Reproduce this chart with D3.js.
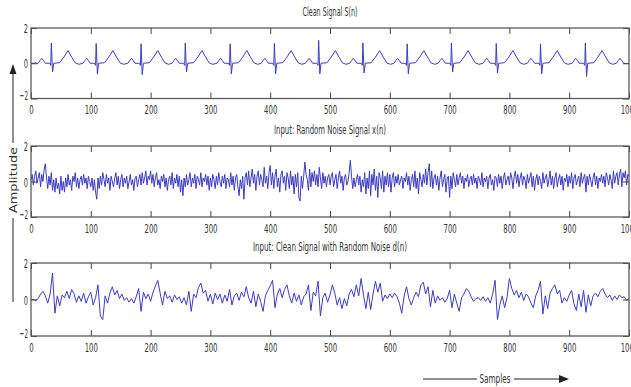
<!DOCTYPE html>
<html>
<head>
<meta charset="utf-8">
<script src="https://cdn.jsdelivr.net/npm/d3@7"></script>
<style>
  body { margin: 0; background: #fff; }
  svg { display: block; }
  text { font-family: "Liberation Sans Narrow", "Arial Narrow", "DejaVu Sans Condensed", sans-serif; fill: #333; }
</style>
</head>
<body>
<svg id="chart" width="631" height="387"></svg>
<script>
// ---- data -------------------------------------------------------------
const sampleTicks = [0, 100, 200, 300, 400, 500, 600, 700, 800, 900, 1000];
const ampTicks = [-2, 0, 2];

const panelTitles = [
  "Clean  Signal S(n)",
  "Input: Random Noise Signal x(n)",
  "Input: Clean  Signal with Random Noise d(n)"
];

// Clean ECG-like signal S(n): [sample, amplitude] knots (P, QRS and T of each beat)
const cleanKnots = [
  [0,0],[5,0],[8,0.04],[10,-0.02],
  [12,0],[15,0.15],[18,0.28],[21,0.15],[24,0],[31,0],[33,-0.12],[34,1.15],[36,-0.5],[38,0],[48,0.03],[55,0.35],[62,0.72],[68,0.35],[74,0.02],[80,-0.06],
  [87,0],[90,0.15],[93,0.28],[96,0.15],[99,0],[106,0],[108,-0.12],[109,1.12],[111,-0.6],[113,0],[123,0.03],[130,0.35],[137,0.72],[143,0.35],[149,0.02],[155,-0.06],
  [162,0],[165,0.15],[168,0.28],[171,0.15],[174,0],[181,0],[183,-0.12],[184,1.1],[186,-0.65],[188,0],[198,0.03],[205,0.35],[212,0.72],[218,0.35],[224,0.02],[230,-0.06],
  [236,0],[239,0.15],[242,0.28],[245,0.15],[248,0],[255,0],[257,-0.12],[258,1.15],[260,-0.5],[262,0],[272,0.03],[279,0.35],[286,0.72],[292,0.35],[298,0.02],[304,-0.06],
  [311,0],[314,0.15],[317,0.28],[320,0.15],[323,0],[330,0],[332,-0.12],[333,1.1],[335,-0.6],[337,0],[347,0.03],[354,0.35],[361,0.72],[367,0.35],[373,0.02],[379,-0.06],
  [385,0],[388,0.15],[391,0.28],[394,0.15],[397,0],[404,0],[406,-0.12],[407,1.12],[409,-0.6],[411,0],[421,0.03],[428,0.35],[435,0.72],[441,0.35],[447,0.02],[453,-0.06],
  [459,0],[462,0.15],[465,0.28],[468,0.15],[471,0],[478,0],[480,-0.12],[481,1.3],[483,-0.6],[485,0],[495,0.03],[502,0.35],[509,0.72],[515,0.35],[521,0.02],[527,-0.06],
  [533,0],[536,0.15],[539,0.28],[542,0.15],[545,0],[552,0],[554,-0.12],[555,1.15],[557,-0.55],[559,0],[569,0.03],[576,0.35],[583,0.72],[589,0.35],[595,0.02],[601,-0.06],
  [607,0],[610,0.15],[613,0.28],[616,0.15],[619,0],[626,0],[628,-0.12],[629,1.1],[631,-0.6],[633,0],[643,0.03],[650,0.35],[657,0.72],[663,0.35],[669,0.02],[675,-0.06],
  [681,0],[684,0.15],[687,0.28],[690,0.15],[693,0],[700,0],[702,-0.12],[703,1.15],[705,-0.5],[707,0],[717,0.03],[724,0.35],[731,0.72],[737,0.35],[743,0.02],[749,-0.06],
  [756,0],[759,0.15],[762,0.28],[765,0.15],[768,0],[775,0],[777,-0.12],[778,1.12],[780,-0.55],[782,0],[792,0.03],[799,0.35],[806,0.72],[812,0.35],[818,0.02],[824,-0.06],
  [830,0],[833,0.15],[836,0.28],[839,0.15],[842,0],[849,0],[851,-0.12],[852,1.1],[854,-0.6],[856,0],[866,0.03],[873,0.35],[880,0.72],[886,0.35],[892,0.02],[898,-0.06],
  [905,0],[908,0.15],[911,0.28],[914,0.15],[917,0],[924,0],[926,-0.12],[927,1.15],[929,-0.75],[931,0],[941,0.03],[948,0.35],[955,0.72],[961,0.35],[967,0.02],[973,-0.06],
  [979,0],[982,0.15],[985,0.28],[988,0.15],[991,0],[1000,-0.02]
];

// Random noise x(n), one value every 2 samples from n = 0 to 1000
const noiseStep = 2;
const noiseValues = [
  0.1,0.4,-0.2,0.3,0.6,-0.1,0.2,0.5,-0.3,0.4, 0.0,0.7,1.0,0.2,-0.4,0.3,-0.2,0.5,-0.5,0.1, -0.6,0.2,-0.4,-0.1,-0.7,0.3,-0.5,0.0,-0.6,0.2, -0.3,0.4,-0.2,0.1,-0.5,0.3,0.0,0.5,-0.3,0.2, -0.4,0.1,0.3,-0.2,0.4,-0.1,0.2,-0.4,0.3,0.0,
  -0.3,0.2,-0.5,0.1,-0.6,-1.0,0.2,-0.4,0.3,-0.2, 0.5,0.1,-0.3,0.4,-0.1,0.2,-0.5,0.3,0.0,-0.3, 0.2,0.5,-0.2,0.3,-0.4,0.1,0.4,-0.3,0.2,-0.1, 0.3,-0.4,0.0,0.4,-0.2,0.1,-0.5,0.2,0.3,-0.3, 0.1,0.4,-0.2,0.5,-0.1,0.2,0.6,-0.2,0.3,0.1,
  0.6,-0.1,0.4,-0.3,0.2,0.5,-0.2,0.1,-0.4,0.3, 0.0,0.4,-0.3,0.2,-0.5,0.1,0.3,-0.2,0.5,-0.4, 0.2,-0.1,0.4,-0.3,0.3,-0.6,0.1,-0.8,0.2,-0.3, 0.4,-0.2,0.1,0.5,-0.3,0.2,-0.1,0.4,-0.4,0.3, 0.1,-0.2,0.5,-0.3,0.2,0.0,0.4,-0.2,0.3,-0.5,
  0.2,-0.3,0.4,0.1,-0.4,0.3,-0.2,0.5,0.0,-0.3, 0.3,-0.1,0.4,-0.4,0.2,0.1,-0.3,0.5,-0.2,0.3, -0.5,0.2,0.4,-0.3,-0.8,0.1,-0.4,0.3,-1.0,0.2, 0.5,-0.2,0.6,-0.3,0.2,0.7,-0.1,0.4,-0.5,0.3, 0.6,-0.2,0.4,0.1,-0.3,0.8,-0.1,0.3,-0.4,0.5,
  0.9,-0.2,0.5,-0.4,0.3,0.7,-0.3,0.2,-0.6,0.4, 0.6,-0.1,0.3,-0.5,0.5,0.2,-0.4,0.6,-0.2,0.3, -0.7,0.4,-0.3,0.5,-0.9,-1.1,0.3,-0.4,0.3,1.1, 0.4,0.1,-0.5,0.7,-0.3,0.5,0.0,0.6,-0.2,0.4, -0.3,0.8,0.2,-0.4,0.5,-0.1,0.3,-0.3,0.2,0.4,
  -0.2,0.3,0.5,-0.3,0.1,0.4,-0.4,0.2,0.6,-0.1, 0.3,-0.5,0.2,0.4,-0.2,0.0,0.5,1.2,0.3,-0.4, 0.2,-0.3,0.1,0.4,-0.2,0.3,-0.6,0.1,-0.3,0.5, -0.7,0.2,-0.4,0.6,-0.8,0.4,-0.2,0.7,-0.5,0.3, -0.9,0.5,0.2,-0.4,0.6,-0.6,0.3,-0.2,0.5,-0.3,
  0.4,-0.6,0.2,0.5,-0.3,0.3,-0.1,0.4,-0.2,0.1, 0.3,-0.4,0.2,0.0,0.5,-0.2,0.3,-0.5,0.1,0.4, -0.3,0.6,-0.4,0.2,-0.7,0.5,0.1,-0.3,0.4,-0.1, 0.7,-0.2,0.5,1.0,-0.3,0.6,-0.4,0.2,0.4,-0.2, 0.3,-0.5,0.2,0.6,-0.3,0.1,0.4,-0.6,0.2,0.3,
  -0.9,0.3,-0.4,0.5,0.1,-0.3,0.4,-0.2,0.2,0.5, -0.1,0.3,-0.4,0.2,0.0,0.4,-0.3,0.1,0.3,-0.2, 0.4,-0.1,0.2,-0.4,0.3,0.1,-0.2,0.5,-0.3,0.2, 0.0,0.3,-0.4,0.2,0.4,-0.2,0.1,-0.5,0.3,0.2, -0.3,0.4,-0.1,0.3,-0.4,0.2,0.5,-0.2,0.1,0.3,
  -0.2,0.5,0.2,-0.4,0.3,0.6,-0.1,0.4,-0.3,0.2, 0.5,-0.2,0.3,0.1,-0.4,0.4,-0.1,0.2,0.5,-0.3, 0.3,-0.5,0.1,0.4,-0.2,0.3,0.0,-0.4,0.5,-0.1, 0.2,0.4,-0.3,0.1,0.6,-0.2,0.3,-0.4,0.2,0.5, -0.3,0.1,0.4,-0.2,0.3,-0.5,0.2,0.0,0.4,-0.3,
  0.3,-0.1,0.5,-0.4,0.2,0.4,-0.2,0.1,0.3,-0.3, 0.5,-0.1,0.2,0.4,-0.6,0.3,-0.2,0.4,0.1,-0.3, 0.2,0.5,-0.2,0.3,-0.4,0.2,0.0,0.4,-0.1,0.3, -0.3,0.5,0.2,-0.2,0.4,0.1,-0.4,0.6,-0.1,0.3, 0.5,-0.2,0.4,0.7,-0.3,0.5,0.2,0.6,-0.2,0.4,
  0.3
];

// Clean signal with random noise d(n), one value every 4 samples from n = 0 to 1000
const noisyStep = 4;
const noisyValues = [
  0.0,0.0,-0.05,0.05,0.3,0.45,0.2,-0.2,0.3,1.45,-0.75,0.2,-0.35,0.25,0.1,0.45,0.05,0.55,0.3,-0.15,0.2,-0.1,0.35,-0.2,0.15,
  0.4,-0.3,0.1,0.8,-0.9,-1.1,0.2,-0.2,0.35,0.7,0.25,0.5,0.05,0.3,-0.05,0.1,-0.15,0.05,-0.2,0.15,0.6,-0.65,0.4,0.05,0.3,
  -0.1,0.4,0.75,1.05,0.35,-0.3,0.45,0.05,0.2,-0.15,0.25,0.0,0.15,-0.2,0.1,-0.3,0.45,-0.65,0.3,0.1,0.65,0.9,0.35,0.5,-0.1,
  0.3,-0.25,0.35,0.0,0.3,-0.2,0.25,-0.1,0.55,-0.3,0.2,0.35,-0.05,0.4,0.15,0.7,0.1,-0.2,0.45,-0.4,0.3,-0.1,-0.65,0.2,0.5,
  0.75,1.05,-0.45,0.3,0.6,0.1,0.55,0.8,0.2,-0.2,0.35,-0.1,0.25,-0.3,0.15,0.3,0.8,-0.6,0.4,0.2,1.0,-0.9,0.1,0.35,-0.15,
  0.25,0.8,0.35,-0.3,0.1,-0.5,0.05,-0.35,0.3,0.55,0.15,0.8,0.2,1.15,0.25,-0.5,0.4,-0.55,0.3,1.0,0.4,0.9,-0.1,0.25,0.05,
  0.3,0.1,0.35,0.15,-0.2,-0.75,0.2,0.7,0.05,-0.3,0.1,0.4,0.15,0.8,0.95,0.3,0.7,-0.4,0.5,-0.2,0.2,-0.05,0.1,-0.15,0.05,
  0.5,-0.45,0.3,-0.2,-0.65,0.1,0.3,0.6,0.45,0.15,-0.1,0.05,0.1,-0.05,0.15,-0.1,0.1,-0.2,0.3,1.05,-1.1,-0.3,0.2,-0.45,0.1,
  1.15,0.6,0.25,0.5,0.1,0.4,-0.05,0.3,0.15,-0.2,-0.45,0.2,0.5,1.0,-0.8,0.2,-0.5,0.35,0.6,0.8,0.3,0.5,-0.2,0.1,-0.1,
  0.25,0.5,-0.25,-0.6,0.3,-0.4,0.5,-0.7,0.25,-0.35,0.2,0.35,0.15,0.45,0.6,0.3,0.1,0.25,-0.05,0.2,0.0,0.25,0.1,0.15,-0.05,
  0.05
];

// ---- layout -----------------------------------------------------------
const svg = d3.select("#chart");
const x = d3.scaleLinear().domain([0, 1000]).range([31, 629]);

const panels = [
  { top: 28,  bottom: 98.5, title: panelTitles[0], titleW: 55,
    points: cleanKnots },
  { top: 146, bottom: 217,  title: panelTitles[1], titleW: 112,
    points: noiseValues.map((v, i) => [i * noiseStep, v]) },
  { top: 263, bottom: 336,  title: panelTitles[2], titleW: 154,
    points: noisyValues.map((v, i) => [i * noisyStep, v]) }
];

const lineColor = "#3c3cc2";
const frameColor = "#5a5a5a";
const tickLen = 6;
const intFormat = d3.format("d");

panels.forEach(p => {
  const y = d3.scaleLinear().domain([-2, 2]).range([p.bottom, p.top]);
  const g = svg.append("g");

  // signal trace
  g.append("path")
    .datum(p.points)
    .attr("fill", "none")
    .attr("stroke", lineColor)
    .attr("stroke-width", 1)
    .attr("stroke-linejoin", "round")
    .attr("d", d3.line().x(d => x(d[0])).y(d => y(d[1])));

  // inward ticks on all four sides
  const bottomAxis = g.append("g")
    .attr("transform", `translate(0,${p.bottom})`)
    .call(d3.axisBottom(x).tickValues(sampleTicks).tickSizeInner(-tickLen).tickSizeOuter(0)
      .tickPadding(0).tickFormat(intFormat));
  g.append("g")
    .attr("transform", `translate(0,${p.top})`)
    .call(d3.axisTop(x).tickValues(sampleTicks).tickSizeInner(-tickLen).tickSizeOuter(0).tickFormat(""));
  const leftAxis = g.append("g")
    .attr("transform", `translate(${x(0)},0)`)
    .call(d3.axisLeft(y).tickValues(ampTicks).tickSizeInner(-tickLen).tickSizeOuter(0).tickFormat(intFormat));
  g.append("g")
    .attr("transform", `translate(${x(1000)},0)`)
    .call(d3.axisRight(y).tickValues(ampTicks).tickSizeInner(-tickLen).tickSizeOuter(0).tickFormat(""));

  g.selectAll(".domain").remove();
  g.selectAll(".tick line").attr("stroke", "#444").attr("stroke-width", 1);

  bottomAxis.selectAll("text")
    .attr("y", 15.5).attr("dy", null)
    .attr("font-size", 13).attr("font-family", null).attr("fill", null)
    .attr("textLength", function () { return this.textContent.length * 4.4; })
    .attr("lengthAdjust", "spacingAndGlyphs");

  leftAxis.selectAll("text")
    .attr("x", -3)
    .attr("dy", d => d === -2 ? "0.1em" : "0.35em")
    .attr("font-size", 13).attr("font-family", null).attr("fill", null)
    .attr("textLength", function () { return this.textContent.length * 4.2; })
    .attr("lengthAdjust", "spacingAndGlyphs");

  // axes box
  g.append("rect")
    .attr("x", x(0)).attr("y", p.top)
    .attr("width", x(1000) - x(0)).attr("height", p.bottom - p.top)
    .attr("fill", "none").attr("stroke", frameColor).attr("stroke-width", 1.3);

  // panel title
  g.append("text")
    .attr("x", (x(0) + x(1000)) / 2).attr("y", p.top - 12)
    .attr("text-anchor", "middle")
    .attr("font-size", 11.5)
    .attr("textLength", p.titleW).attr("lengthAdjust", "spacingAndGlyphs")
    .text(p.title);
});

// ---- axis captions with arrows -----------------------------------------
const arrowColor = "#222";

// vertical "Amplitude" arrow
svg.append("line").attr("x1", 13).attr("x2", 13).attr("y1", 302).attr("y2", 218)
  .attr("stroke", arrowColor).attr("stroke-width", 1);
svg.append("line").attr("x1", 13).attr("x2", 13).attr("y1", 143).attr("y2", 72)
  .attr("stroke", arrowColor).attr("stroke-width", 1);
svg.append("path").attr("d", "M13,64 L9.5,74 L16.5,74 Z").attr("fill", arrowColor);
svg.append("text")
  .attr("transform", "translate(16.5,180) rotate(-90)")
  .attr("text-anchor", "middle")
  .attr("font-size", 10)
  .attr("textLength", 66).attr("lengthAdjust", "spacingAndGlyphs")
  .text("Amplitude");

// horizontal "Samples" arrow
svg.append("line").attr("x1", 423).attr("x2", 477).attr("y1", 379).attr("y2", 379)
  .attr("stroke", arrowColor).attr("stroke-width", 1);
svg.append("line").attr("x1", 514).attr("x2", 560).attr("y1", 379).attr("y2", 379)
  .attr("stroke", arrowColor).attr("stroke-width", 1);
svg.append("path").attr("d", "M569,379 L559,375 L559,383 Z").attr("fill", arrowColor);
svg.append("text")
  .attr("x", 495).attr("y", 383)
  .attr("text-anchor", "middle")
  .attr("font-size", 12)
  .attr("textLength", 31).attr("lengthAdjust", "spacingAndGlyphs")
  .text("Samples");
</script>
</body>
</html>
